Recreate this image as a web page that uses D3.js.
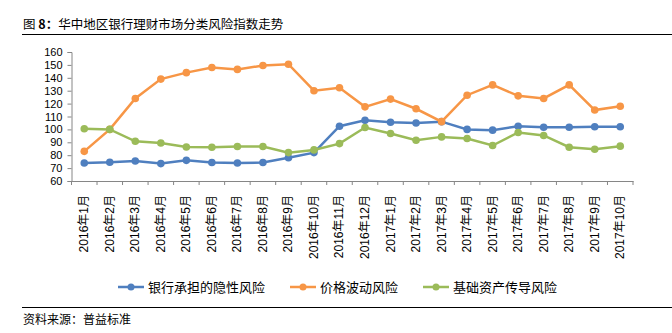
<!DOCTYPE html>
<html>
<head>
<meta charset="utf-8">
<script src="https://cdn.jsdelivr.net/npm/d3@7"></script>
<style>
  body { margin: 0; background: #fff; }
  text { font-family: "Liberation Sans", Arial, "Noto Sans CJK SC", sans-serif; fill: #000; }
  .cjk { font-family: "Noto Sans CJK SC", sans-serif; }
</style>
</head>
<body>
<div id="chart"></div>
<script>
// months on the x axis
var months = ["2016年1月", "2016年2月", "2016年3月", "2016年4月", "2016年5月", "2016年6月",
  "2016年7月", "2016年8月", "2016年9月", "2016年10月", "2016年11月", "2016年12月",
  "2017年1月", "2017年2月", "2017年3月", "2017年4月", "2017年5月", "2017年6月",
  "2017年7月", "2017年8月", "2017年9月", "2017年10月"];

// series values
var bankRisk = [74, 74.5, 75.5, 73.5, 76, 74.3, 74, 74.3, 78, 82, 102.5, 107,
  105.5, 105, 106, 100, 99.4, 102.5, 101.7, 101.7, 102, 102];
var priceRisk = [83, 100, 124, 139, 144, 148, 146.5, 149.5, 150.5, 130, 132.3, 117.5,
  123.5, 116, 106, 126.5, 134.5, 126, 124, 134.5, 115, 118];
var assetRisk = [100.5, 100, 90.8, 89.5, 86.4, 86.2, 86.7, 86.7, 82, 84.1, 89, 101.5,
  96.8, 91.6, 94.2, 92.9, 87.5, 97.6, 95.3, 86.2, 84.6, 87];

var seriesNames = ["银行承担的隐性风险", "价格波动风险", "基础资产传导风险"];
var seriesColors = ["#4f7fbf", "#f79646", "#9bbb59"];
var yTicks = [60, 70, 80, 90, 100, 110, 120, 130, 140, 150, 160];

var svgWidth = 672;
var svgHeight = 333;

var chartMargin = {top: 52, left: 71.5, right: 39, bottom: 152};
var chartWidth = svgWidth - chartMargin.left - chartMargin.right;
var chartHeight = svgHeight - chartMargin.top - chartMargin.bottom;

var svg = d3.select("#chart")
    .append("svg")
    .attr("width", svgWidth)
    .attr("height", svgHeight);

// title + rule
svg.append("text")
    .attr("class", "cjk")
    .attr("x", 23)
    .attr("y", 29)
    .style("font-size", "12.5px")
    .html('图 <tspan style="font-weight:bold">8：</tspan>华中地区银行理财市场分类风险指数走势');

svg.append("line")
    .attr("x1", 22).attr("x2", 672)
    .attr("y1", 34.5).attr("y2", 34.5)
    .attr("stroke", "#000").attr("stroke-width", 1.2);

var chartGroup = svg.append("g")
    .attr("transform", `translate(${chartMargin.left}, ${chartMargin.top})`);

var xScale = d3.scaleBand()
    .domain(months)
    .range([0, chartWidth]);

var yScale = d3.scaleLinear()
    .domain([60, 160])
    .range([chartHeight, 0]);

// y axis
var leftAxis = d3.axisLeft(yScale).tickValues(yTicks).tickSize(4).tickPadding(5);
var yAxis = chartGroup.append("g").call(leftAxis);
yAxis.selectAll("text").style("font-size", "11px");
yAxis.select(".domain").attr("stroke", "#868686");
yAxis.selectAll(".tick line").attr("stroke", "#868686");

// x axis, ticks at category boundaries
var xAxis = chartGroup.append("g")
    .attr("transform", `translate(0, ${chartHeight})`)
    .call(d3.axisBottom(xScale).tickSize(0).tickFormat(""));
xAxis.select(".domain").attr("stroke", "#868686");

var bounds = months.map(d => xScale(d)).concat([chartWidth]);
chartGroup.selectAll(".xtick")
    .data(bounds)
    .enter()
    .append("line")
    .attr("x1", d => d).attr("x2", d => d)
    .attr("y1", chartHeight).attr("y2", chartHeight + 4)
    .attr("stroke", "#868686");

chartGroup.selectAll(".xlabel")
    .data(months)
    .enter()
    .append("text")
    .attr("transform", d => `translate(${xScale(d) + xScale.bandwidth() / 2 + 4}, ${chartHeight + 14}) rotate(-90)`)
    .attr("text-anchor", "end")
    .style("font-size", "12px")
    .text(d => d);

// lines
var allSeries = [bankRisk, priceRisk, assetRisk];
var line = d3.line()
    .x((d, i) => xScale(months[i]) + xScale.bandwidth() / 2)
    .y(d => yScale(d));

allSeries.forEach(function(values, k) {
    chartGroup.append("path")
        .datum(values)
        .attr("fill", "none")
        .attr("stroke", seriesColors[k])
        .attr("stroke-width", 2.5)
        .attr("d", line);

    chartGroup.selectAll(".pt" + k)
        .data(values)
        .enter()
        .append("circle")
        .attr("cx", (d, i) => xScale(months[i]) + xScale.bandwidth() / 2)
        .attr("cy", d => yScale(d))
        .attr("r", 3.8)
        .attr("fill", seriesColors[k]);
});

// legend
var legendX = [118, 290, 423];
var legend = svg.append("g").attr("transform", "translate(0, 287)");
seriesNames.forEach(function(name, k) {
    legend.append("line")
        .attr("x1", legendX[k]).attr("x2", legendX[k] + 26)
        .attr("y1", 0).attr("y2", 0)
        .attr("stroke", seriesColors[k]).attr("stroke-width", 2.5);
    legend.append("circle")
        .attr("cx", legendX[k] + 13).attr("cy", 0)
        .attr("r", 3.5)
        .attr("fill", seriesColors[k]);
    legend.append("text")
        .attr("class", "cjk")
        .attr("x", legendX[k] + 30)
        .attr("y", 4.5)
        .style("font-size", "13px")
        .text(name);
});

// source rule + note
svg.append("line")
    .attr("x1", 22).attr("x2", 672)
    .attr("y1", 307.5).attr("y2", 307.5)
    .attr("stroke", "#000").attr("stroke-width", 1.2);

svg.append("text")
    .attr("class", "cjk")
    .attr("x", 23)
    .attr("y", 324)
    .style("font-size", "12px")
    .text("资料来源：普益标准");
</script>
</body>
</html>
